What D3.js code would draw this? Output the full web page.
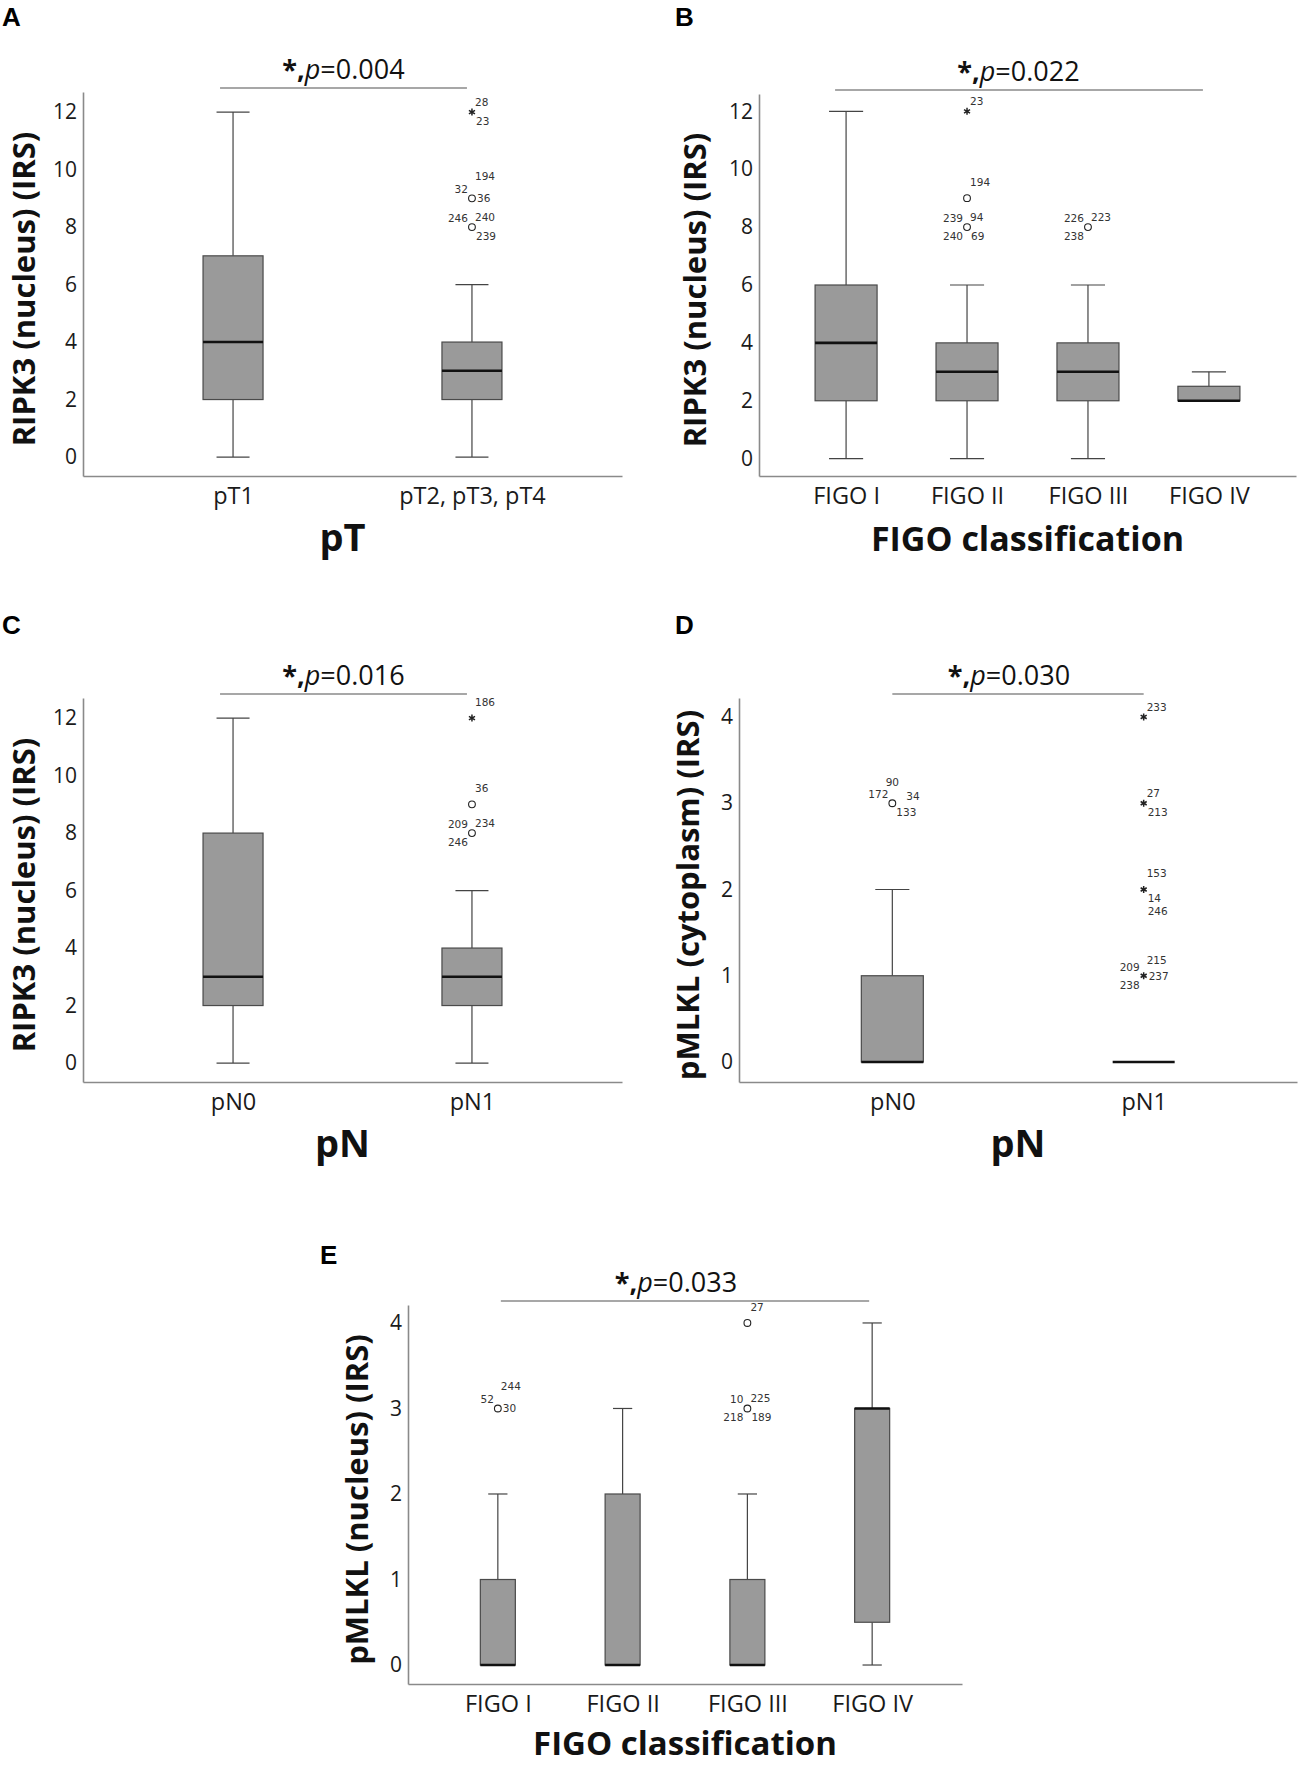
<!DOCTYPE html>
<html>
<head>
<meta charset="utf-8">
<script src="https://cdn.jsdelivr.net/npm/d3@7"></script>
<style>
  body { margin: 0; background: #fff; }
  svg { display: block; }
</style>
</head>
<body>
<svg id="fig" width="1299" height="1767"></svg>
<script>
// ---- data ----
var ripkTicks = [0, 2, 4, 6, 8, 10, 12];
var mlklTicks = [0, 1, 2, 3, 4];

var ptCats = ['pT1', 'pT2, pT3, pT4'];
// min, q1, median, q3, max
var ptStats = [[0, 2, 4, 7, 12], [0, 2, 3, 4, 6]];
var ptOutliers = [
  {cat: 1, v: 12, mark: 'star', ids: [['28', 'n1'], ['23', 's1']]},
  {cat: 1, v: 9, mark: 'circle', ids: [['32', 'w'], ['194', 'n3'], ['36', 'e']]},
  {cat: 1, v: 8, mark: 'circle', ids: [['246', 'w'], ['240', 'n1'], ['239', 's1']]}
];

var figoCats = ['FIGO I', 'FIGO II', 'FIGO III', 'FIGO IV'];
var figoRipkStats = [[0, 2, 4, 6, 12], [0, 2, 3, 4, 6], [0, 2, 3, 4, 6], [2, 2, 2, 2.5, 3]];
var figoRipkOutliers = [
  {cat: 1, v: 12, mark: 'star', ids: [['23', 'n1']]},
  {cat: 1, v: 9, mark: 'circle', ids: [['194', 'n2']]},
  {cat: 1, v: 8, mark: 'circle', ids: [['239', 'w'], ['94', 'n1'], ['240', 'sw'], ['69', 's1']]},
  {cat: 2, v: 8, mark: 'circle', ids: [['226', 'w'], ['223', 'n1'], ['238', 'sw']]}
];

var pnCats = ['pN0', 'pN1'];
var pnRipkStats = [[0, 2, 3, 8, 12], [0, 2, 3, 4, 6]];
var pnRipkOutliers = [
  {cat: 1, v: 12, mark: 'star', ids: [['186', 'n2']]},
  {cat: 1, v: 9, mark: 'circle', ids: [['36', 'n2']]},
  {cat: 1, v: 8, mark: 'circle', ids: [['209', 'w'], ['234', 'n1'], ['246', 'sw']]}
];

var pnMlklStats = [[0, 0, 0, 1, 2], [0, 0, 0, 0, 0]];
var pnMlklOutliers = [
  {cat: 0, v: 3, mark: 'circle', ids: [['90', 'nc'], ['172', 'w'], ['34', 'ef'], ['133', 's1']]},
  {cat: 1, v: 4, mark: 'star', ids: [['233', 'n1']]},
  {cat: 1, v: 3, mark: 'star', ids: [['27', 'n1'], ['213', 's1']]},
  {cat: 1, v: 2, mark: 'star', ids: [['153', 'n2'], ['14', 's1'], ['246', 's2']]},
  {cat: 1, v: 1, mark: 'star', ids: [['215', 'n2'], ['209', 'w'], ['237', 'e'], ['238', 'sw']]}
];

var figoMlklStats = [[0, 0, 0, 1, 2], [0, 0, 0, 2, 3], [0, 0, 0, 1, 2], [0, 0.5, 3, 3, 4]];
var figoMlklOutliers = [
  {cat: 0, v: 3, mark: 'circle', ids: [['244', 'n3'], ['52', 'w'], ['30', 'e']]},
  {cat: 2, v: 3, mark: 'circle', ids: [['10', 'w'], ['225', 'n1'], ['218', 'sw'], ['189', 's1']]},
  {cat: 2, v: 4, mark: 'circle', ids: [['27', 'n2']]}
];

// ---- drawing ----
var svg = d3.select('#fig');
var textFont = "'Open Sans', 'DejaVu Sans', sans-serif";
var smallFont = "'DejaVu Sans', sans-serif";

// where outlier case numbers sit relative to their marker
var spot = {
  n1: [3, -6, 'start'], n2: [3, -12, 'start'], n3: [3, -18, 'start'], nc: [0, -17, 'middle'],
  e: [5, 4, 'start'], ef: [14, -3, 'start'], s1: [4, 13, 'start'], s2: [4, 26, 'start'],
  w: [-4, -5, 'end'], sw: [-4, 13, 'end']
};

function boxPanel(o) {
  var g = svg.append('g');

  var x = d3.scalePoint().domain(o.cats).range([o.left, o.right]).padding(o.pad);
  var y = d3.scaleLinear().domain(o.yDom).range([o.bottom, o.top]);

  // panel letter
  g.append('text')
    .attr('x', o.letter[0]).attr('y', o.letter[1])
    .style('font-family', "'Liberation Sans', Arial, sans-serif")
    .style('font-weight', 'bold').style('font-size', '26px')
    .text(o.name);

  // axes
  var ax = g.append('g')
    .attr('transform', 'translate(0,' + o.bottom + ')')
    .call(d3.axisBottom(x).tickSize(0).tickSizeOuter(0).tickPadding(11));
  ax.selectAll('text').style('font-family', textFont).style('font-size', '23.5px').attr('fill', '#1a1a1a');

  var ay = g.append('g')
    .attr('transform', 'translate(' + o.left + ',0)')
    .call(d3.axisLeft(y).tickValues(o.ticks).tickFormat(d3.format('d'))
      .tickSize(0).tickSizeOuter(0).tickPadding(6));
  ay.selectAll('text').style('font-family', textFont).style('font-size', '21px').attr('fill', '#1a1a1a');

  g.selectAll('.domain').attr('stroke', '#8a8a8a').attr('stroke-width', 1.6);

  // axis titles
  g.append('text')
    .attr('x', (o.left + o.right) / 2 + o.xTitleShift).attr('y', o.bottom + o.xTitleGap)
    .attr('text-anchor', 'middle')
    .style('font-family', textFont).style('font-weight', 'bold').style('font-size', o.xTitleSize + 'px')
    .attr('fill', '#111')
    .text(o.xTitle);

  g.append('text')
    .attr('transform', 'translate(' + o.yTitleX + ',' + ((o.top + o.bottom) / 2 + 5) + ') rotate(-90)')
    .attr('text-anchor', 'middle')
    .style('font-family', textFont).style('font-weight', 'bold').style('font-size', '31px')
    .attr('fill', '#111')
    .text(o.yTitle);

  // significance bar
  var c0 = x(o.cats[0]), c1 = x(o.cats[o.cats.length - 1]);
  g.append('line')
    .attr('x1', c0 + o.barTrim[0]).attr('x2', c1 + o.barTrim[1])
    .attr('y1', o.top - 4).attr('y2', o.top - 4)
    .attr('stroke', '#8a8a8a').attr('stroke-width', 1.4);

  var sig = g.append('text')
    .attr('x', (c0 + c1) / 2 - 9).attr('y', o.top - 13)
    .attr('text-anchor', 'middle')
    .style('font-family', textFont).style('font-size', '27px')
    .attr('fill', '#111');
  sig.append('tspan').style('font-weight', 'bold').text('*,');
  sig.append('tspan').style('font-style', 'italic').text('p');
  sig.append('tspan').text('=' + o.p);

  // boxes
  var bw = o.boxW, cw = o.boxW * 0.55;
  var box = g.selectAll('.box').data(o.stats).enter().append('g')
    .attr('transform', function(d, i) { return 'translate(' + x(o.cats[i]) + ',0)'; });

  box.each(function(d) {
    var b = d3.select(this);
    var lo = d[0], q1 = d[1], med = d[2], q3 = d[3], hi = d[4];
    if (hi > q3) {
      b.append('line').attr('y1', y(q3)).attr('y2', y(hi)).attr('stroke', '#444').attr('stroke-width', 1.2);
      b.append('line').attr('x1', -cw / 2).attr('x2', cw / 2).attr('y1', y(hi)).attr('y2', y(hi))
        .attr('stroke', '#444').attr('stroke-width', 1.2);
    }
    if (lo < q1) {
      b.append('line').attr('y1', y(q1)).attr('y2', y(lo)).attr('stroke', '#444').attr('stroke-width', 1.2);
      b.append('line').attr('x1', -cw / 2).attr('x2', cw / 2).attr('y1', y(lo)).attr('y2', y(lo))
        .attr('stroke', '#444').attr('stroke-width', 1.2);
    }
    if (q3 > q1) {
      b.append('rect').attr('x', -bw / 2).attr('width', bw)
        .attr('y', y(q3)).attr('height', y(q1) - y(q3))
        .attr('fill', '#9a9a9a').attr('stroke', '#4a4a4a').attr('stroke-width', 1.2);
    }
    b.append('line').attr('x1', -bw / 2).attr('x2', bw / 2).attr('y1', y(med)).attr('y2', y(med))
      .attr('stroke', '#111').attr('stroke-width', 2.6);
  });

  // outliers
  var out = g.selectAll('.out').data(o.outliers).enter().append('g')
    .attr('transform', function(d) { return 'translate(' + x(o.cats[d.cat]) + ',' + y(d.v) + ')'; });

  out.append('path')
    .attr('d', function(d) {
      return d.mark === 'star' ? d3.symbol(d3.symbolAsterisk, 34)() : d3.symbol(d3.symbolCircle, 36)();
    })
    .attr('fill', function(d) { return d.mark === 'star' ? 'none' : '#fff'; })
    .attr('stroke', '#222')
    .attr('stroke-width', function(d) { return d.mark === 'star' ? 1.5 : 1.1; });

  out.selectAll('text').data(function(d) { return d.ids; }).enter().append('text')
    .attr('x', function(d) { return spot[d[1]][0]; })
    .attr('y', function(d) { return spot[d[1]][1]; })
    .attr('text-anchor', function(d) { return spot[d[1]][2]; })
    .style('font-family', smallFont).style('font-size', '10.5px')
    .attr('fill', '#333')
    .text(function(d) { return d[0]; });
}

boxPanel({name: 'A', letter: [2, 26], cats: ptCats, stats: ptStats, outliers: ptOutliers,
  left: 83, right: 622, top: 92, bottom: 476, pad: 0.628, yDom: [-0.66, 12.7], ticks: ripkTicks,
  boxW: 60, barTrim: [-13, -5], p: '0.004', xTitle: 'pT', xTitleSize: 38, xTitleGap: 75, xTitleShift: -10,
  yTitle: 'RIPK3 (nucleus) (IRS)', yTitleX: 35});

boxPanel({name: 'B', letter: [675, 26], cats: figoCats, stats: figoRipkStats, outliers: figoRipkOutliers,
  left: 759, right: 1296, top: 94, bottom: 476, pad: 0.72, yDom: [-0.6, 12.6], ticks: ripkTicks,
  boxW: 62, barTrim: [-11, -6], p: '0.022', xTitle: 'FIGO classification', xTitleSize: 34, xTitleGap: 75, xTitleShift: 0,
  yTitle: 'RIPK3 (nucleus) (IRS)', yTitleX: 706});

boxPanel({name: 'C', letter: [2, 634], cats: pnCats, stats: pnRipkStats, outliers: pnRipkOutliers,
  left: 83, right: 622, top: 698, bottom: 1082, pad: 0.628, yDom: [-0.66, 12.7], ticks: ripkTicks,
  boxW: 60, barTrim: [-13, -5], p: '0.016', xTitle: 'pN', xTitleSize: 38, xTitleGap: 75, xTitleShift: -10,
  yTitle: 'RIPK3 (nucleus) (IRS)', yTitleX: 35});

boxPanel({name: 'D', letter: [675, 634], cats: pnCats, stats: pnMlklStats, outliers: pnMlklOutliers,
  left: 739, right: 1297, top: 698, bottom: 1082, pad: 0.61, yDom: [-0.232, 4.22], ticks: mlklTicks,
  boxW: 62, barTrim: [0, 0], p: '0.030', xTitle: 'pN', xTitleSize: 38, xTitleGap: 75, xTitleShift: 0,
  yTitle: 'pMLKL (cytoplasm) (IRS)', yTitleX: 699});

boxPanel({name: 'E', letter: [320, 1264], cats: figoCats, stats: figoMlklStats, outliers: figoMlklOutliers,
  left: 408, right: 962, top: 1305, bottom: 1684, pad: 0.72, yDom: [-0.222, 4.21], ticks: mlklTicks,
  boxW: 35, barTrim: [3, -3], p: '0.033', xTitle: 'FIGO classification', xTitleSize: 33, xTitleGap: 71, xTitleShift: 0,
  yTitle: 'pMLKL (nucleus) (IRS)', yTitleX: 368});
</script>
</body>
</html>
